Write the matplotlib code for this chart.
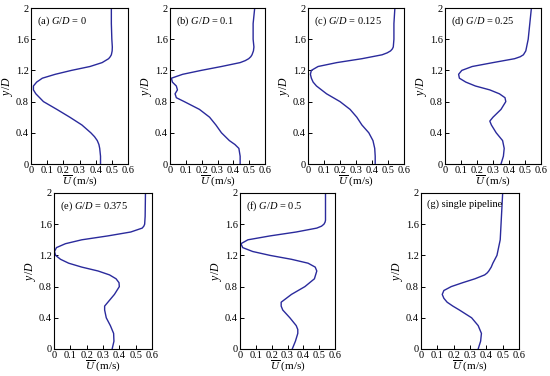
import matplotlib
matplotlib.use("Agg")
import matplotlib.pyplot as plt

plt.rcParams["font.family"] = ["Liberation Serif", "DejaVu Serif"]
plt.rcParams["mathtext.fontset"] = "custom"
plt.rcParams["mathtext.rm"] = "Liberation Serif"
plt.rcParams["mathtext.it"] = "Liberation Serif:italic"
plt.rcParams["font.size"] = 7.5

# y/D positions and mean velocity (m/s)
y_a = [0, 0.1, 0.2, 0.25, 0.3, 0.35, 0.4, 0.5, 0.6, 0.7, 0.8, 0.9, 0.95, 1.0,
       1.05, 1.1, 1.15, 1.2, 1.25, 1.3, 1.35, 1.375, 1.4, 1.45, 1.5, 1.6, 1.8,
       2.0]
u_a = [0.43, 0.43, 0.425, 0.42, 0.41, 0.393, 0.37, 0.315, 0.24, 0.16, 0.077,
       0.03, 0.015, 0.015, 0.035, 0.07, 0.15, 0.25, 0.365, 0.44, 0.48, 0.49,
       0.497, 0.502, 0.503, 0.5, 0.497, 0.497]

y_b = [0, 0.1, 0.2, 0.25, 0.3, 0.4, 0.5, 0.6, 0.7, 0.8, 0.85, 0.9, 0.95, 1.0,
       1.05, 1.1, 1.15, 1.2, 1.25, 1.3, 1.325, 1.35, 1.375, 1.4, 1.45, 1.5,
       1.6, 1.8, 2.0]
u_b = [0.443, 0.443, 0.435, 0.41, 0.375, 0.325, 0.29, 0.25, 0.186, 0.09, 0.04,
       0.032, 0.047, 0.04, 0.015, 0.009, 0.08, 0.197, 0.325, 0.443, 0.475,
       0.497, 0.51, 0.518, 0.527, 0.53, 0.525, 0.525, 0.535]

y_c = [0, 0.1, 0.2, 0.3, 0.4, 0.5, 0.6, 0.7, 0.8, 0.9, 1.0, 1.05, 1.1, 1.15,
       1.2, 1.25, 1.3, 1.35, 1.4, 1.425, 1.45, 1.475, 1.5, 1.6, 1.8, 2.0]
u_c = [0.42, 0.42, 0.417, 0.406, 0.38, 0.337, 0.305, 0.263, 0.2, 0.116, 0.053,
       0.032, 0.021, 0.015, 0.021, 0.063, 0.18, 0.337, 0.463, 0.495, 0.516,
       0.527, 0.533, 0.537, 0.537, 0.543]

y_d = [0, 0.1, 0.2, 0.3, 0.4, 0.5, 0.55, 0.6, 0.7, 0.8, 0.85, 0.9, 0.95, 1.0,
       1.05, 1.1, 1.15, 1.2, 1.25, 1.3, 1.35, 1.375, 1.4, 1.45, 1.5, 1.6, 1.8,
       2.0]
u_d = [0.35, 0.365, 0.37, 0.36, 0.32, 0.29, 0.28, 0.3, 0.35, 0.38, 0.375,
       0.34, 0.28, 0.19, 0.13, 0.09, 0.085, 0.105, 0.17, 0.3, 0.435, 0.47,
       0.49, 0.505, 0.51, 0.52, 0.53, 0.54]

y_e = [0, 0.1, 0.2, 0.3, 0.4, 0.5, 0.55, 0.6, 0.7, 0.8, 0.85, 0.9, 0.95, 1.0,
       1.05, 1.1, 1.15, 1.2, 1.25, 1.3, 1.35, 1.4, 1.45, 1.5, 1.55, 1.575,
       1.6, 1.7, 2.0]
u_e = [0.356, 0.367, 0.365, 0.345, 0.32, 0.31, 0.31, 0.33, 0.37, 0.4, 0.398,
       0.38, 0.34, 0.27, 0.17, 0.09, 0.04, 0.01, 0.003, 0.015, 0.07, 0.17,
       0.33, 0.47, 0.54, 0.55, 0.555, 0.558, 0.56]

y_f = [0, 0.1, 0.2, 0.25, 0.3, 0.4, 0.5, 0.55, 0.6, 0.7, 0.8, 0.9, 1.0, 1.05,
       1.1, 1.15, 1.2, 1.25, 1.3, 1.35, 1.4, 1.45, 1.5, 1.55, 1.575, 1.6,
       1.625, 1.65, 1.8, 2.0]
u_f = [0.33, 0.35, 0.365, 0.365, 0.355, 0.315, 0.27, 0.26, 0.26, 0.325, 0.41,
       0.47, 0.485, 0.475, 0.43, 0.325, 0.19, 0.08, 0.017, 0.006, 0.05, 0.19,
       0.355, 0.485, 0.515, 0.53, 0.537, 0.54, 0.54, 0.54]

y_g = [0, 0.1, 0.2, 0.3, 0.4, 0.5, 0.55, 0.6, 0.65, 0.7, 0.75, 0.8, 0.85, 0.9,
       0.95, 0.975, 1.0, 1.05, 1.1, 1.2, 1.4, 1.6, 2.0]
u_g = [0.35, 0.365, 0.37, 0.35, 0.31, 0.235, 0.195, 0.16, 0.14, 0.13, 0.14,
       0.185, 0.255, 0.33, 0.39, 0.405, 0.415, 0.43, 0.44, 0.465, 0.485, 0.49,
       0.5]

titles = ["(a) $G/D$ = 0", "(b) $G/D$ = 0.1", "(c) $G/D$ = 0.125",
          "(d) $G/D$ = 0.25", "(e) $G/D$ = 0.375", "(f) $G/D$ = 0.5",
          "(g) single pipeline"]
profiles = [(u_a, y_a), (u_b, y_b), (u_c, y_c), (u_d, y_d),
            (u_e, y_e), (u_f, y_f), (u_g, y_g)]

x_ticks = [0, 0.1, 0.2, 0.3, 0.4, 0.5, 0.6]
x_tick_labels = ["0", "0.1", "0.2", "0.3", "0.4", "0.5", "0.6"]
y_ticks = [0, 0.4, 0.8, 1.2, 1.6, 2.0]
y_tick_labels = ["0", "0.4", "0.8", "1.2", "1.6", "2"]

W, H = 550, 376
# axes boxes in pixels: left, top, right, bottom
boxes = [(31, 8, 128, 164), (170, 8, 265, 164), (308, 8, 404, 164),
         (445, 8, 541, 164), (54, 193, 152, 349), (240, 193, 335, 349),
         (421, 193, 519, 349)]

fig = plt.figure(figsize=(W / 100, H / 100), dpi=100)
for (l, t, r, b), (u, y), title in zip(boxes, profiles, titles):
    ax = fig.add_axes([l / W, 1 - b / H, (r - l) / W, (b - t) / H])
    ax.plot(u, y, color="#2a2a9c", lw=1.0)
    ax.set_xlim(0, 0.6)
    ax.set_ylim(0, 2)
    ax.set_xticks(x_ticks)
    ax.set_xticklabels(x_tick_labels)
    ax.set_yticks(y_ticks)
    ax.set_yticklabels(y_tick_labels)
    ax.tick_params(direction="in", length=3, width=0.7, pad=1.5,
                   labelsize=7.5)
    for s in ax.spines.values():
        s.set_linewidth(0.8)
    ax.set_xlabel(r"$\overline{U}$ (m/s)", fontsize=8, labelpad=-1)
    ax.set_ylabel("$y/D$", fontsize=8.5, labelpad=1)
    ax.text(0.06, 0.96, title, transform=ax.transAxes, ha="left", va="top",
            fontsize=7.5)

fig.savefig("out.png", dpi=100)
